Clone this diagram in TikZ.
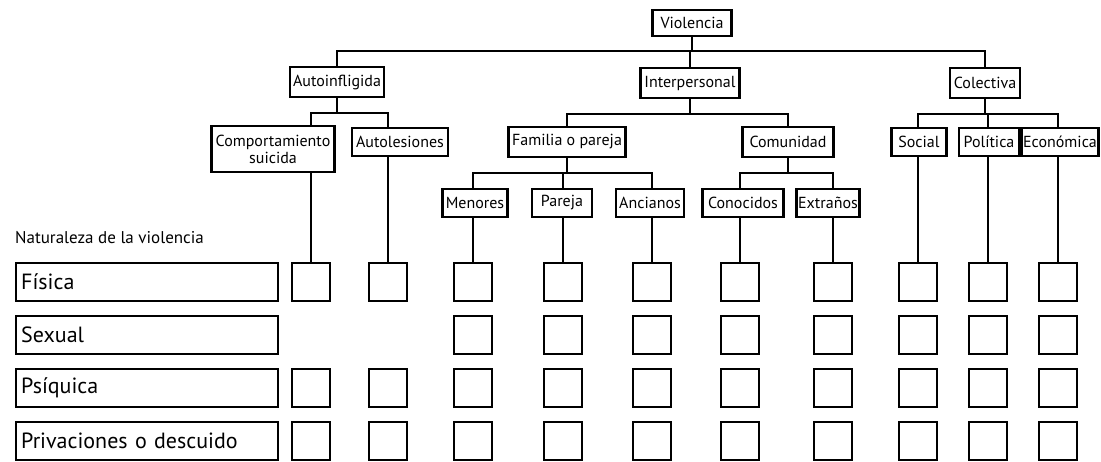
\documentclass[tikz,border=0pt]{standalone}
\usepackage{fontspec}
\setmainfont{PT Sans}
\usetikzlibrary{positioning,calc}
\tikzstyle{diagram} = [x=1pt, y=-1pt]
\tikzstyle{treeLine} = [line width=1.7pt]
\tikzstyle{treeBox} = [draw, line width=2.2pt, font=\fontsize{16}{17}\selectfont, inner sep=0pt, minimum height=28pt, align=center]
\tikzstyle{rowBox} = [draw, line width=2.4pt, font=\fontsize{22}{24}\selectfont, minimum height=38pt, anchor=west, inner xsep=5pt, inner ysep=0pt, text width=252pt, align=left]
\tikzstyle{headerText} = [font=\fontsize{17}{20}\selectfont, anchor=west, inner sep=0pt]
\tikzstyle{checkSquare} = [draw, line width=2.8pt, minimum size=38pt, inner sep=0pt]
\newcommand{\busDrop}{15}
\newcommand{\leafLink}[3]{
  \draw [treeLine] (#1.south) -- ++(0,\busDrop) -| (sq-1-#3.north |- #2.north);
  \draw [treeLine] (#2.south -| sq-1-#3.north) -- (sq-1-#3.north);
}
\begin{document}
\begin{tikzpicture}[diagram]
    \useasboundingbox (0,0) rectangle (1101,461);
    % tree of types
    \node [treeBox, minimum width=79pt, minimum height=26pt] (viol) at (692,23) {Violencia};
    \node [treeBox, minimum width=94pt, minimum height=30pt] (auto) at (337,82) {Autoinfligida};
    \node [treeBox, minimum width=99pt, minimum height=30pt] (inter) at (690,83) {Interpersonal};
    \node [treeBox, minimum width=70pt, minimum height=30pt] (colec) at (985,83) {Colectiva};
    \node [treeBox, minimum width=123pt, minimum height=46pt] (comp) at (273,149) {Comportamiento\\suicida};
    \node [treeBox, minimum width=96pt] (autol) at (400,142) {Autolesiones};
    \node [treeBox, minimum width=117pt, minimum height=30pt] (fam) at (567,142) {Familia o pareja};
    \node [treeBox, minimum width=91pt, minimum height=30pt] (comu) at (788,142) {Comunidad};
    \node [treeBox, minimum width=55pt] (soc) at (919,142) {Social};
    \node [treeBox, minimum width=60pt] (pol) at (989,142) {Política};
    \node [treeBox, minimum width=77pt] (eco) at (1060,142) {Económica};
    \node [treeBox, minimum width=65pt] (men) at (475,203) {Menores};
    \node [treeBox, minimum width=60pt] (par) at (562,203) {Pareja};
    \node [treeBox, minimum width=68pt] (anc) at (650,203) {Ancianos};
    \node [treeBox, minimum width=81pt] (cono) at (743,203) {Conocidos};
    \node [treeBox, minimum width=63pt] (extr) at (828,203) {Extraños};
    % nature of the violence
    \node [headerText] (header) at (15,238) {Naturaleza de la violencia};
    \foreach \r/\y/\name in {1/282/Física, 2/335/Sexual, 3/388/Psíquica, 4/441/Privaciones o descuido}
      \node [rowBox] (row-\r) at (15,\y) {\name};
    \foreach \c/\x in {1/311, 2/388, 3/473, 4/563, 5/652, 6/740, 7/833, 8/918, 9/988, 10/1058} {
      \foreach \r/\y in {1/282, 2/335, 3/388, 4/441} {
        \pgfmathtruncatemacro{\noBox}{(\r==2)*(\c<3)}
        \ifnum\noBox=0
          \node [checkSquare] (sq-\r-\c) at (\x,\y) {};
        \fi
      }
    }
    % connectors
    \draw [treeLine] (viol.south) -- ++(0,14) -| (auto.north);
    \draw [treeLine] (viol.south) -- ++(0,14) -| (inter.north);
    \draw [treeLine] (viol.south) -- ++(0,14) -| (colec.north);
    \draw [treeLine] (inter.south) -- ++(0,\busDrop) -| (fam.north);
    \draw [treeLine] (inter.south) -- ++(0,\busDrop) -| (comu.north);
    \leafLink{auto}{comp}{1}
    \leafLink{auto}{autol}{2}
    \leafLink{fam}{men}{3}
    \leafLink{fam}{par}{4}
    \leafLink{fam}{anc}{5}
    \leafLink{comu}{cono}{6}
    \leafLink{comu}{extr}{7}
    \leafLink{colec}{soc}{8}
    \leafLink{colec}{pol}{9}
    \leafLink{colec}{eco}{10}
\end{tikzpicture}
\end{document}
